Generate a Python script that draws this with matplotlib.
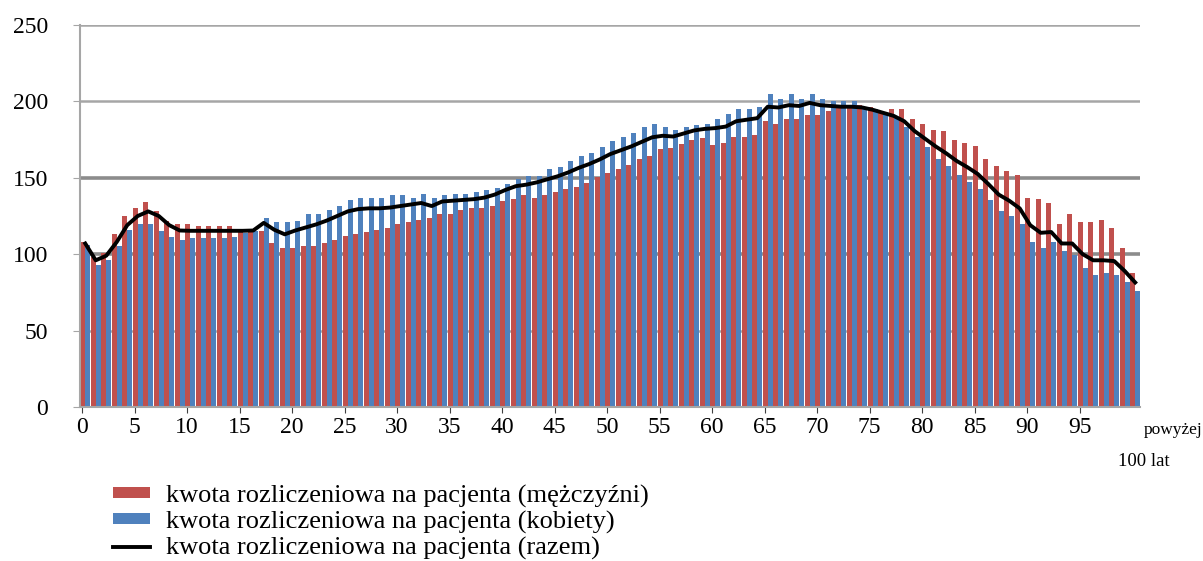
import matplotlib
matplotlib.use("Agg")
import matplotlib.pyplot as plt
import numpy as np

plt.rcParams['font.family'] = ['Liberation Serif', 'DejaVu Serif']

# age groups 0..99 and "powyżej 100 lat"
ages = list(range(101))

men = [108, 98, 101, 113, 125, 130, 134, 128, 122, 120,
       120, 118.5, 118.5, 118.5, 118.5, 115, 115, 115, 107, 104,
       104, 105.5, 105.5, 107.5, 109.5, 112, 113, 114.5, 116, 117,
       120, 121, 122.5, 123.5, 126, 126.5, 129, 130, 130.5, 131.5,
       134.5, 136, 138.5, 137, 138.5, 140.5, 142.5, 144, 146.5, 150.5,
       153, 155.5, 158.5, 162, 164.5, 169, 169.5, 172, 175, 176,
       171.5, 172.5, 177, 177, 178, 187, 185.5, 188.5, 188.5, 191,
       191, 193.5, 197.5, 197.5, 197.5, 196, 193.5, 195, 195, 188.5,
       185.5, 181.5, 180.5, 175, 172.5, 171, 162, 158, 154.5, 151.5,
       137, 136, 133.5, 120, 126.5, 121, 121, 122.5, 117, 104,
       88]

women = [106, 93, 96, 105.5, 116, 120, 120, 115, 111, 109.5,
         110.5, 110.5, 110.5, 110.5, 111.5, 114, 115, 124, 121, 121,
         122, 126, 126, 129, 131.5, 135.5, 137, 137, 137, 138.5,
         138.5, 137, 139.5, 137, 138.5, 139.5, 139.5, 141, 142, 143.5,
         146, 149, 151, 151, 155.5, 157, 161, 164.5, 166, 170,
         174, 176.5, 179, 183, 185.5, 183, 181.5, 183, 184.5, 185.5,
         188.5, 192, 195, 195, 196.5, 204.5, 201.5, 204.5, 201.5, 204.5,
         201.5, 200, 200, 200, 196, 195, 192, 189.5, 183, 176.5,
         170, 162, 158, 151.5, 147.5, 142.5, 135.5, 128, 125, 120,
         108, 104, 108, 102, 99.5, 91, 86.5, 88, 86.5, 81.5,
         76]

total = [107, 96, 99, 108, 119, 125, 128, 125, 119, 115.5,
         115.3, 115.3, 115.3, 115.3, 115.3, 115.3, 115.5, 120.5, 116, 113,
         115.5, 117.5, 119.5, 122, 125, 128, 129.5, 130, 130, 130.5,
         131.5, 132.5, 133.5, 131.5, 134.5, 135, 135.5, 136, 137, 139,
         142, 144.5, 145.5, 147, 149, 151, 153.5, 156.5, 159, 162,
         165.5, 168, 170.5, 173.5, 176.5, 177.5, 177, 179, 181, 182,
         182.5, 183.5, 187, 188, 189, 196.5, 196, 197.5, 197, 199,
         197.5, 197, 196.5, 196.5, 196, 194.5, 192.5, 190.5, 187, 180.5,
         175.5, 170.5, 166, 161, 157, 152.5, 146, 139, 135, 130,
         119, 114, 114.5, 107, 107, 100, 96, 96, 95.5, 89,
         81.5]

tick_ages = list(range(0, 100, 5))
tick_labels = [str(a) for a in tick_ages]
y_ticks = [0, 50, 100, 150, 200, 250]

labels = ['kwota rozliczeniowa na pacjenta (mężczyźni)',
          'kwota rozliczeniowa na pacjenta (kobiety)',
          'kwota rozliczeniowa na pacjenta (razem)']

red = '#C0504D'
blue = '#4F81BD'

fig = plt.figure(figsize=(12.03, 5.61), dpi=100)
ax = fig.add_axes([0.0665, 0.2745, 0.8815, 0.681])

x = np.array(ages)
w = 0.46
b1 = ax.bar(x - w / 2, men, width=w, color=red, zorder=2)
b2 = ax.bar(x + w / 2, women, width=w, color=blue, zorder=2)
ln, = ax.plot(x, total, color='black', lw=2.8, zorder=3)

# gridlines (100 and 150 drawn darker in the original)
for yv in y_ticks[1:]:
    lw = 2.6 if yv in (100, 150) else 1.8
    c = '#8c8c8c' if yv in (100, 150) else '#a6a6a6'
    ax.axhline(yv, color=c, lw=lw, zorder=1)

ax.set_xlim(-0.5, 100.5)
ax.set_ylim(0, 250)
ax.set_yticks(y_ticks)
ax.set_xticks([a - 0.3 for a in tick_ages])
ax.set_xticklabels(tick_labels)
ax.tick_params(axis='y', length=5, color='#a6a6a6', pad=18, labelsize=17)
ax.tick_params(axis='x', length=4, color='#404040', pad=3, labelsize=17)
for s in ['top', 'right']:
    ax.spines[s].set_visible(False)
ax.spines['left'].set_color('#a6a6a6')
ax.spines['left'].set_linewidth(1.5)
ax.spines['bottom'].set_color('#a6a6a6')
ax.spines['bottom'].set_linewidth(1.5)

ax.text(0.951, 0.247, 'powyżej', transform=fig.transFigure, fontsize=12.5,
        ha='left', va='top')
ax.text(0.929, 0.192, '100 lat', transform=fig.transFigure, fontsize=13.5,
        ha='left', va='top')

fig.legend([b1, b2, ln], labels, loc='upper left', bbox_to_anchor=(0.083, 0.16),
           frameon=False, fontsize=19, handlelength=1.4, handleheight=0.28,
           labelspacing=0.12, handletextpad=0.6, borderpad=0)

fig.savefig('out.png', dpi=100)
